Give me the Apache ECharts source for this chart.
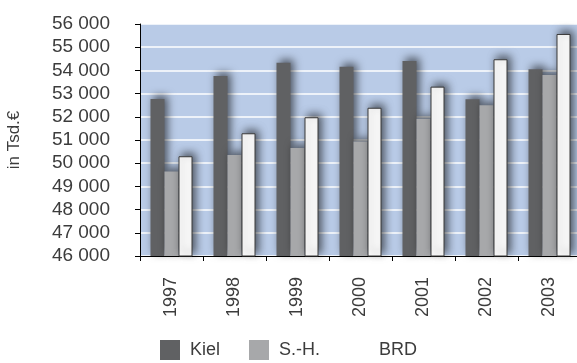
<!DOCTYPE html>
<html>
<head>
<meta charset="utf-8">
<script src="https://cdn.jsdelivr.net/npm/echarts@6/dist/echarts.min.js"></script>
<style>
  html, body { margin: 0; padding: 0; background: #fff; }
  #chart { width: 577px; height: 363px; }
</style>
</head>
<body>
<div id="chart"></div>
<script>
// Jahre und Werte (in Tsd. €)
const years = ['1997', '1998', '1999', '2000', '2001', '2002', '2003'];
const kiel = [52770, 53760, 54330, 54160, 54400, 52760, 54050];
const sh   = [49640, 50350, 50660, 50940, 51920, 52500, 53800];
const brd  = [50300, 51290, 51980, 52390, 53300, 54480, 55570];
const yMin = 46000, yMax = 56000, yStep = 1000;

const FONT = '"Liberation Sans", Arial, sans-serif';
const TXT = '#3c3c3c';

const shadow = {
  shadowColor: 'rgba(0,0,0,0.6)',
  shadowBlur: 9,
  shadowOffsetX: 3,
  shadowOffsetY: -3
};

function bar(name, data, style) {
  return {
    name, type: 'bar', data,
    barWidth: 14, barGap: '0%',
    itemStyle: Object.assign({}, shadow, style)
  };
}

const noIconFx = { borderWidth: 0, shadowBlur: 0, shadowOffsetX: 0, shadowOffsetY: 0 };

const chart = echarts.init(document.getElementById('chart'), null, { renderer: 'canvas' });
chart.setOption({
  animation: false,
  textStyle: { fontFamily: FONT },
  grid: {
    left: 140, top: 24, right: -4, bottom: 107,
    outerBoundsMode: 'none', containLabel: false,
    show: true, backgroundColor: '#b9cbe7', borderWidth: 0
  },
  legend: {
    top: 335, left: 'center', icon: 'rect',
    itemWidth: 20, itemHeight: 20, itemGap: 29,
    textStyle: { fontSize: 18, color: TXT, fontFamily: FONT, padding: [0, 0, 0, 5] },
    data: [
      { name: 'Kiel', itemStyle: noIconFx },
      { name: 'S.-H.', itemStyle: noIconFx },
      { name: 'BRD', itemStyle: noIconFx }
    ]
  },
  xAxis: {
    type: 'category', data: years,
    axisLine: { lineStyle: { color: '#000', width: 1 } },
    axisTick: { show: true, length: 5, lineStyle: { color: '#000' } },
    axisLabel: { rotate: 90, margin: 21, fontSize: 18, color: TXT, fontFamily: FONT }
  },
  yAxis: {
    type: 'value', min: yMin, max: yMax, interval: yStep,
    name: 'in Tsd.€', nameLocation: 'middle', nameGap: 117, nameRotate: 90,
    nameTextStyle: { fontSize: 17, color: TXT, fontFamily: FONT },
    axisLine: { show: true, lineStyle: { color: '#000', width: 1 } },
    axisTick: { show: true, length: 5, lineStyle: { color: '#000' } },
    axisLabel: {
      margin: 30, fontSize: 19, color: TXT, fontFamily: FONT,
      formatter: v => String(v).replace(/\B(?=(\d{3})+(?!\d))/g, ' ')
    },
    splitLine: { show: true, lineStyle: { color: '#ffffff', width: 1.5 } }
  },
  series: [
    bar('Kiel', kiel, { color: '#606163' }),
    bar('S.-H.', sh, { color: '#a7a8aa' }),
    bar('BRD', brd, { color: '#ffffff', borderColor: '#3a3a3a', borderWidth: 1 })
  ]
});
</script>
</body>
</html>
